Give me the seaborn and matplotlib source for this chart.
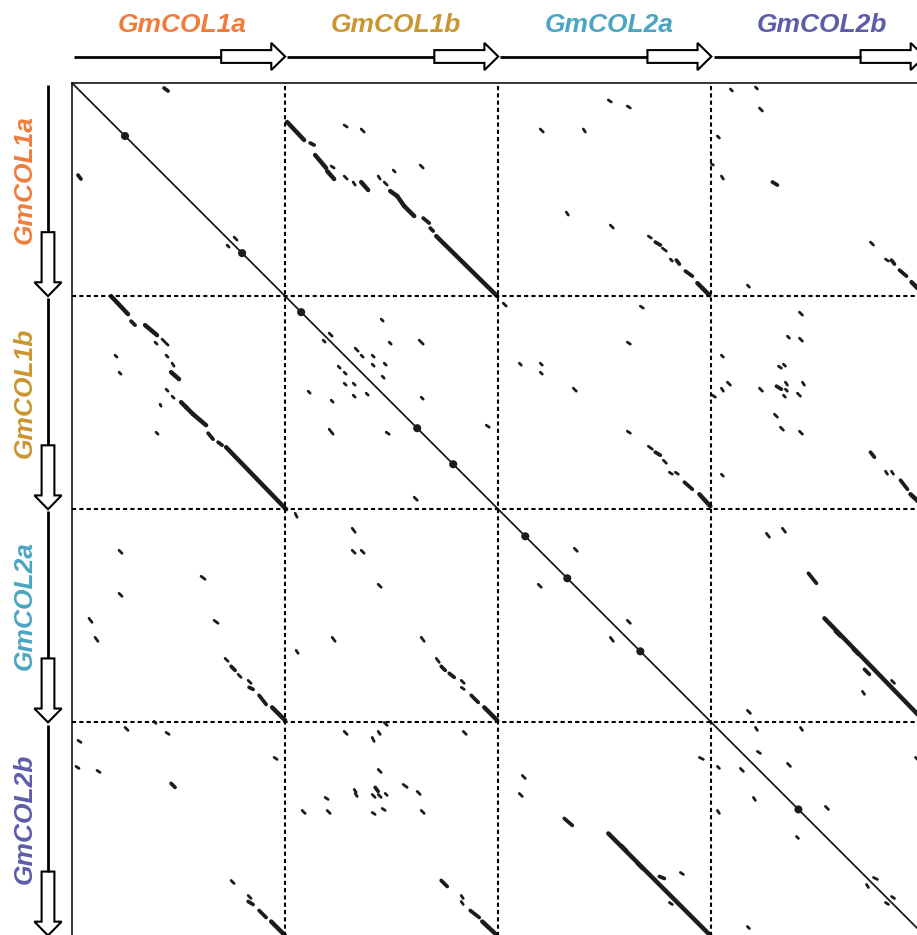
import matplotlib.pyplot as plt
import seaborn as sns
import pandas as pd
from matplotlib.patches import Polygon
from matplotlib.transforms import blended_transform_factory

# genes on both axes (same order), equal length blocks
genes = ['GmCOL1a', 'GmCOL1b', 'GmCOL2a', 'GmCOL2b']
gene_colors = ['#F07C3B', '#C9962F', '#4BA5C1', '#5C5CAA']
gene_len = [213, 213, 213, 213]

# self match (main diagonal)
diag = [(0, 0, 852, 852)]
diag_dots = [(53, 53), (170, 170), (229, 229), (345, 345), (381, 381),
             (453, 453), (495, 495), (568, 568), (726, 726)]

# short hits (x0, y0, x1, y1)
thin = [
    # 1a x 1a
    (162, 154, 165, 157), (155, 162, 157, 164),
    # 1a x 1b
    (259, 83, 262, 85), (272, 93, 275, 96), (281, 99, 283, 102), (306, 93, 308, 96),
    (312, 99, 315, 102), (321, 87, 323, 89), (348, 82, 351, 85), (272, 42, 275, 44),
    (289, 46, 292, 49),
    # 1a x 2a
    (536, 17, 539, 19), (555, 23, 558, 25), (468, 46, 471, 49), (511, 46, 513, 49),
    (494, 129, 496, 132), (538, 142, 541, 145), (576, 153, 579, 155), (590, 165, 594, 168),
    (598, 176, 600, 178),
    # 1a x 2b
    (658, 6, 660, 8), (683, 4, 685, 6), (687, 25, 690, 28), (645, 53, 647, 55),
    (639, 81, 641, 82), (649, 93, 651, 96), (798, 159, 801, 162), (813, 176, 816, 178),
    (675, 202, 677, 204),
    # 1b x 1a
    (83, 259, 85, 261), (90, 256, 96, 262), (43, 272, 45, 274), (94, 272, 96, 274),
    (100, 280, 102, 283), (47, 289, 49, 291), (94, 306, 96, 308), (100, 313, 102, 315),
    (88, 321, 89, 323), (84, 349, 86, 351),
    # 1b x 1b
    (309, 236, 311, 238), (257, 250, 260, 253), (251, 257, 253, 259), (317, 259, 319, 261),
    (347, 257, 351, 261), (283, 265, 286, 268), (289, 272, 291, 274), (300, 272, 302, 274),
    (266, 283, 268, 285), (300, 281, 302, 283), (312, 280, 314, 282), (272, 289, 274, 291),
    (310, 293, 312, 295), (272, 300, 274, 302), (281, 300, 283, 302), (236, 308, 238, 310),
    (281, 312, 283, 314), (294, 310, 296, 312), (259, 317, 261, 319), (349, 314, 351, 316),
    (257, 346, 261, 351), (314, 349, 317, 351), (414, 342, 417, 344), (342, 414, 345, 417),
    # 1b x 2a
    (431, 220, 434, 223), (568, 223, 571, 225), (555, 259, 558, 261), (447, 280, 449, 282),
    (468, 280, 470, 282), (468, 289, 470, 291), (501, 305, 504, 308), (555, 348, 558, 350),
    (576, 363, 580, 366), (591, 377, 594, 380), (597, 389, 600, 391), (603, 389, 606, 391),
    # 1b x 2b
    (727, 229, 730, 232), (715, 253, 717, 255), (727, 255, 730, 258), (649, 272, 651, 274),
    (706, 283, 709, 285), (711, 281, 713, 283), (655, 299, 658, 302), (649, 305, 651, 308),
    (640, 312, 643, 314), (687, 305, 690, 308), (713, 299, 715, 302), (713, 306, 715, 308),
    (711, 312, 713, 314), (730, 299, 732, 302), (725, 310, 728, 313), (702, 331, 705, 334),
    (708, 344, 711, 347), (727, 348, 730, 351), (813, 388, 815, 391), (819, 388, 821, 391),
    (649, 391, 651, 393),
    # 2a x 1a
    (47, 467, 50, 470), (129, 493, 133, 496), (47, 510, 50, 513), (17, 535, 20, 539),
    (23, 554, 26, 558), (142, 537, 146, 540), (153, 575, 156, 578), (166, 591, 169, 594),
    (176, 597, 179, 600),
    # 2a x 1b
    (223, 430, 225, 434), (280, 445, 283, 449), (280, 467, 283, 470), (289, 467, 292, 470),
    (306, 501, 309, 504), (260, 554, 263, 558), (349, 554, 352, 558), (224, 567, 226, 570),
    (364, 575, 367, 579), (389, 597, 392, 600), (389, 604, 392, 606),
    # 2a x 2a
    (502, 465, 505, 468), (466, 501, 469, 504), (555, 537, 558, 540), (538, 554, 541, 558),
    # 2a x 2b
    (694, 450, 697, 454), (710, 445, 713, 449), (819, 597, 822, 600), (790, 608, 792, 611),
    (675, 627, 678, 630),
    # 2b x 1a
    (53, 644, 56, 647), (82, 638, 84, 640), (94, 649, 97, 651), (6, 657, 9, 659),
    (4, 683, 7, 685), (25, 687, 28, 689), (202, 674, 205, 676), (159, 797, 162, 800),
    (176, 812, 179, 815),
    # 2b x 1b
    (272, 648, 275, 651), (306, 648, 308, 651), (312, 639, 315, 642), (300, 654, 302, 658),
    (306, 686, 309, 689), (282, 706, 284, 709), (283, 710, 285, 713), (300, 711, 303, 714),
    (306, 711, 309, 714), (313, 710, 315, 712), (331, 701, 335, 704), (345, 708, 348, 711),
    (253, 714, 256, 716), (230, 727, 233, 730), (255, 727, 258, 730), (300, 729, 303, 731),
    (310, 725, 313, 727), (349, 727, 352, 730), (391, 648, 394, 651), (389, 812, 391, 815),
    (389, 818, 391, 821),
    # 2b x 2a
    (450, 692, 453, 695), (447, 710, 450, 713), (608, 789, 611, 791), (597, 819, 600, 821),
    (627, 674, 631, 676),
    # 2b x 2b
    (683, 644, 685, 647), (728, 644, 730, 647), (685, 668, 688, 670), (645, 683, 647, 685),
    (668, 685, 671, 688), (715, 680, 718, 683), (681, 714, 683, 717), (645, 727, 647, 730),
    (753, 723, 756, 726), (724, 753, 726, 755), (801, 794, 805, 796), (794, 801, 796, 804),
    (819, 813, 822, 815), (813, 819, 816, 821), (675, 843, 677, 845), (843, 674, 845, 676),
]

mid = [
    (92, 5, 96, 8), (6, 92, 9, 96),
    (238, 60, 242, 62), (351, 135, 357, 140), (358, 145, 361, 148),
    (583, 159, 588, 162), (604, 177, 607, 181), (613, 188, 620, 193),
    (700, 99, 705, 102), (819, 177, 822, 181), (827, 187, 834, 193),
    (59, 238, 63, 242), (136, 350, 141, 356), (146, 359, 150, 362),
    (583, 369, 588, 372), (612, 399, 620, 406),
    (704, 303, 709, 306), (798, 369, 802, 374), (828, 397, 835, 406),
    (159, 583, 163, 587), (177, 604, 181, 606), (187, 612, 194, 621),
    (369, 583, 373, 587), (377, 590, 382, 594), (399, 612, 406, 619),
    (736, 490, 744, 500), (792, 586, 797, 591), (763, 548, 768, 553), (781, 566, 786, 571),
    (99, 700, 103, 704), (176, 818, 181, 821), (187, 827, 194, 834),
    (303, 704, 306, 708), (369, 797, 375, 803), (398, 827, 407, 834),
    (492, 735, 500, 742), (587, 793, 592, 795), (549, 762, 554, 767), (565, 780, 570, 785),
]

thick = [
    (215, 39, 232, 57), (243, 72, 254, 85), (255, 88, 262, 96), (289, 99, 296, 107),
    (318, 108, 325, 113), (325, 113, 332, 123), (332, 123, 342, 133), (364, 153, 425, 213),
    (625, 200, 637, 212), (839, 199, 852, 212),
    (39, 213, 56, 231), (73, 242, 85, 252), (99, 289, 107, 296), (109, 319, 114, 324),
    (114, 324, 121, 331), (121, 331, 134, 342), (154, 364, 214, 426),
    (627, 411, 638, 423), (838, 411, 852, 424),
    (200, 624, 213, 637), (412, 624, 425, 637), (752, 535, 852, 638),
    (199, 838, 213, 852), (410, 838, 425, 852), (536, 750, 638, 852),
]

rows = []
for kind, segs in [('diag', diag), ('thin', thin), ('mid', mid), ('thick', thick)]:
    for i, (x0, y0, x1, y1) in enumerate(segs):
        rows.append((kind, f'{kind}{i}', x0, y0))
        rows.append((kind, f'{kind}{i}', x1, y1))
df = pd.DataFrame(rows, columns=['kind', 'seg', 'x', 'y'])
dots = pd.DataFrame(diag_dots, columns=['x', 'y'])

sns.set_theme(style='white')
plt.rcParams['font.family'] = ['Liberation Sans', 'DejaVu Sans']

W, H = 917, 935
fig = plt.figure(figsize=(W / 100, H / 100), dpi=100)
AX_L, AX_T, AX_S = 72, 83, 852.5  # pixels
ax = fig.add_axes([AX_L / W, 1 - (AX_T + AX_S) / H, AX_S / W, AX_S / H])

total = sum(gene_len)
starts = [sum(gene_len[:i]) for i in range(len(gene_len))]

ink = '#1c1c1c'
widths = {'diag': 1.3, 'thin': 2.0, 'mid': 2.7, 'thick': 3.2}
for kind, lw in widths.items():
    sns.lineplot(data=df[df['kind'] == kind], x='x', y='y', units='seg',
                 estimator=None, sort=False, color=ink, linewidth=lw,
                 solid_capstyle='butt' if kind == 'diag' else 'round',
                 legend=False, ax=ax)
sns.scatterplot(data=dots, x='x', y='y', s=34, color=ink, edgecolor='none',
                marker='o', legend=False, ax=ax)

# block separators
for b in starts[1:]:
    ax.axvline(b, color='black', lw=1.5, ls=(0, (2, 1.5)))
    ax.axhline(b, color='black', lw=1.5, ls=(0, (2, 1.5)))

ax.set_xlim(0, total)
ax.set_ylim(total, 0)
ax.set_xticks([])
ax.set_yticks([])
ax.set_xlabel('')
ax.set_ylabel('')
for side in ['top', 'left']:
    ax.spines[side].set_color('black')
    ax.spines[side].set_linewidth(1.1)
for side in ['right', 'bottom']:
    ax.spines[side].set_visible(False)

# gene diagrams: line + open block arrow
top_tr = blended_transform_factory(ax.transData, ax.transAxes)
left_tr = blended_transform_factory(ax.transAxes, ax.transData)


def px(p):
    return p / AX_S


y_c = 1 + px(26.5)
x_c = -px(24)
body_h, head_h = px(6.4), px(13.6)
for i, g in enumerate(genes):
    s, L = starts[i], gene_len[i]
    bs, hs, tip = s + 0.70 * L, s + 0.935 * L, s + L
    # top
    ax.plot([s + 0.01 * L, bs], [y_c, y_c], color='black', lw=2.0,
            transform=top_tr, clip_on=False, solid_capstyle='butt')
    pts = [(bs, y_c - body_h), (hs, y_c - body_h), (hs, y_c - head_h), (tip, y_c),
           (hs, y_c + head_h), (hs, y_c + body_h), (bs, y_c + body_h)]
    ax.add_patch(Polygon(pts, closed=True, facecolor='white', edgecolor='black',
                         lw=1.5, transform=top_tr, clip_on=False, joinstyle='miter'))
    ax.text(s + L / 2 + 4, 1 + px(51), g, transform=top_tr, ha='center', va='baseline',
            color=gene_colors[i], fontsize=19, fontweight='bold', fontstyle='italic')
    # left
    ax.plot([x_c, x_c], [s + 0.01 * L, bs], color='black', lw=2.0,
            transform=left_tr, clip_on=False, solid_capstyle='butt')
    pts = [(x_c - body_h, bs), (x_c - body_h, hs), (x_c - head_h, hs), (x_c, tip),
           (x_c + head_h, hs), (x_c + body_h, hs), (x_c + body_h, bs)]
    ax.add_patch(Polygon(pts, closed=True, facecolor='white', edgecolor='black',
                         lw=1.5, transform=left_tr, clip_on=False, joinstyle='miter'))
    ax.text(-px(40), s + L / 2 - 10, g, transform=left_tr, rotation=90,
            rotation_mode='anchor', ha='center', va='baseline',
            color=gene_colors[i], fontsize=19, fontweight='bold', fontstyle='italic')

fig.savefig('out.png', dpi=100, facecolor='white')
